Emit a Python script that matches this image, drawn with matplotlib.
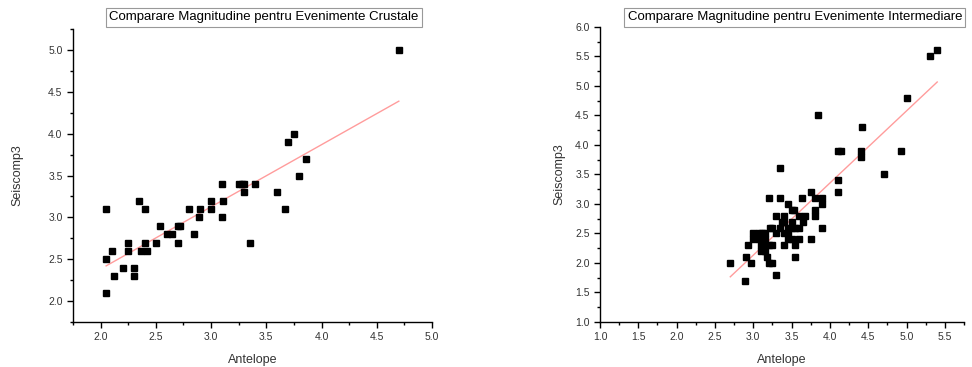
import numpy as np
import matplotlib
matplotlib.use("Agg")
import matplotlib.pyplot as plt
from matplotlib.ticker import MultipleLocator

plt.rcParams['font.family'] = ['Liberation Sans', 'DejaVu Sans']

# crustal events (Antelope vs Seiscomp3)
crust_ant = [2.05, 2.05, 2.05, 2.10, 2.12, 2.20, 2.25, 2.25, 2.30, 2.30,
             2.35, 2.40, 2.37, 2.40, 2.42, 2.50, 2.54, 2.60, 2.65, 2.70,
             2.72, 2.70, 2.80, 2.85, 2.89, 2.90, 3.00, 3.00, 3.10, 3.10,
             3.11, 3.25, 3.28, 3.30, 3.30, 3.40, 3.35, 3.60, 3.67, 3.70,
             3.75, 3.80, 3.86, 4.70]
crust_sc3 = [3.1, 2.5, 2.1, 2.6, 2.3, 2.4, 2.7, 2.6, 2.4, 2.3,
             3.2, 3.1, 2.6, 2.7, 2.6, 2.7, 2.9, 2.8, 2.8, 2.9,
             2.9, 2.7, 3.1, 2.8, 3.0, 3.1, 3.2, 3.1, 3.4, 3.0,
             3.2, 3.4, 3.4, 3.4, 3.3, 3.4, 2.7, 3.3, 3.1, 3.9,
             4.0, 3.5, 3.7, 5.0]

# intermediate depth events
inter_ant = [2.70, 2.89, 2.90, 2.93, 2.97, 3.00, 3.00, 3.08, 3.12, 3.15,
             3.08, 3.12, 3.15, 3.10, 3.15, 3.10, 3.15, 3.18, 3.20, 3.25,
             3.20, 3.22, 3.25, 3.21, 3.30, 3.30, 3.35, 3.35, 3.30, 3.35,
             3.40, 3.40, 3.40, 3.40, 3.45, 3.45, 3.45, 3.50, 3.50, 3.53,
             3.55, 3.55, 3.50, 3.60, 3.60, 3.60, 3.63, 3.65, 3.68, 3.75,
             3.75, 3.80, 3.80, 3.80, 3.84, 3.90, 3.90, 3.90, 4.10, 4.10,
             4.10, 4.15, 4.40, 4.40, 4.42, 4.70, 4.93, 5.01, 5.30, 5.40,
             3.25, 3.45, 3.55, 3.38, 3.50]
inter_sc3 = [2.0, 1.7, 2.1, 2.3, 2.0, 2.5, 2.4, 2.5, 2.5, 2.5,
             2.4, 2.4, 2.4, 2.3, 2.3, 2.2, 2.2, 2.1, 2.0, 2.0,
             3.1, 2.6, 2.3, 2.3, 2.8, 1.8, 3.6, 3.1, 2.5, 2.6,
             2.3, 2.8, 2.7, 2.5, 3.0, 2.6, 2.5, 2.7, 2.4, 2.9,
             2.3, 2.1, 2.6, 2.8, 2.6, 2.4, 3.1, 2.7, 2.8, 3.2,
             2.4, 3.1, 2.9, 2.8, 4.5, 3.1, 3.0, 2.6, 3.4, 3.2,
             3.9, 3.9, 3.9, 3.8, 4.3, 3.5, 3.9, 4.8, 5.5, 5.6,
             2.6, 2.4, 2.6, 2.7, 2.9]

titles = ["Comparare Magnitudine pentru Evenimente Crustale",
          "Comparare Magnitudine pentru Evenimente Intermediare"]

fig = plt.figure(figsize=(9.72, 3.67), dpi=100)
ax1 = fig.add_axes([0.0751, 0.1226, 0.3693, 0.798])
ax2 = fig.add_axes([0.6173, 0.1226, 0.3745, 0.8045])

panels = [(ax1, crust_ant, crust_sc3, (1.75, 5.0), (1.75, 5.25), 0.532, -0.137),
          (ax2, inter_ant, inter_sc3, (1.0, 5.75), (1.0, 6.0), 0.535, -0.095)]

for i, (ax, xs, ys, xl, yl, tx, ylx) in enumerate(panels):
    xs = np.array(xs)
    ys = np.array(ys)
    # linear fit over data range
    k, b = np.polyfit(xs, ys, 1)
    xf = np.array([xs.min(), xs.max()])
    ax.plot(xf, k * xf + b, color='#ff9c9c', lw=1.0, zorder=1)
    ax.plot(xs, ys, 's', color='black', ms=5, zorder=2)

    ax.set_xlim(*xl)
    ax.set_ylim(*yl)
    ax.xaxis.set_major_locator(MultipleLocator(0.5))
    ax.xaxis.set_minor_locator(MultipleLocator(0.25))
    ax.yaxis.set_major_locator(MultipleLocator(0.5))
    ax.yaxis.set_minor_locator(MultipleLocator(0.25))
    ax.xaxis.set_major_formatter(plt.FormatStrFormatter('%.1f'))
    ax.yaxis.set_major_formatter(plt.FormatStrFormatter('%.1f'))
    for s in ['top', 'right']:
        ax.spines[s].set_visible(False)
    for s in ['left', 'bottom']:
        ax.spines[s].set_linewidth(1.0)
    ax.tick_params(which='major', length=4, width=1, labelsize=7.5,
                   labelcolor='#333333', direction='out')
    ax.tick_params(which='minor', length=2.5, width=1, direction='out')
    ax.set_xlabel("Antelope", fontsize=9, color='#333333', labelpad=8)
    ax.set_ylabel("Seiscomp3", fontsize=9, color='#333333')
    ax.yaxis.set_label_coords(ylx, 0.5)

    pos = ax.get_position()
    fig.text(pos.x0 + tx * pos.width, 0.953, titles[i], fontsize=9.5,
             ha='center', va='center',
             bbox=dict(boxstyle='square,pad=0.25', facecolor='white',
                       edgecolor='#999999', linewidth=0.8))

fig.savefig("out.png", dpi=100)
